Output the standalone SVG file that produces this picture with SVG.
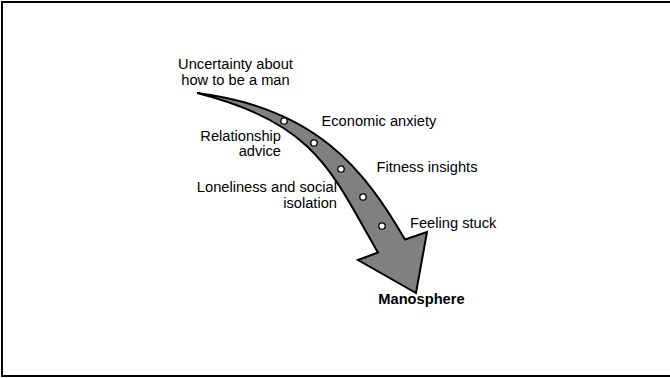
<svg xmlns="http://www.w3.org/2000/svg" width="670" height="378" viewBox="0 0 670 378">
<style>
.lbl{font-family:"Liberation Sans",Arial,sans-serif;font-size:14.67px;fill:#000}
.bold{font-weight:bold}
.dot{fill:#fff;stroke:#000;stroke-width:1.3}
</style>
<rect x="0" y="0" width="670" height="378" fill="#fff"/>
<rect x="2" y="2" width="680" height="374" fill="none" stroke="#000" stroke-width="2"/>
<g id="connectors">
<path id="arrow" d="M197,93 C317,108 364.8,170.4 405,239.5 L427,232 L416,293 L358,260 L378,252.5 C332.7,174.7 317,123 197,93 Z" fill="#808080" stroke="#000" stroke-width="2" stroke-linejoin="miter"/>
<circle class="dot" cx="284" cy="121" r="3.2"/>
<circle class="dot" cx="314" cy="143" r="3.2"/>
<circle class="dot" cx="341" cy="169" r="3.2"/>
<circle class="dot" cx="363" cy="197" r="3.2"/>
<circle class="dot" cx="382" cy="226" r="3.2"/>
</g>
<g id="uncertainty"><text class="lbl" x="235.5" y="69.3" text-anchor="middle">Uncertainty about</text><text class="lbl" x="235.5" y="84.7" text-anchor="middle">how to be a man</text></g>
<g id="relationship"><text class="lbl" x="281" y="140.7" text-anchor="end">Relationship</text><text class="lbl" x="281" y="155.5" text-anchor="end">advice</text></g>
<g id="economic"><text class="lbl" x="321.5" y="125.7">Economic anxiety</text></g>
<g id="fitness"><text class="lbl" x="376.5" y="171.7">Fitness insights</text></g>
<g id="loneliness"><text class="lbl" x="337" y="192.3" text-anchor="end">Loneliness and social</text><text class="lbl" x="337" y="208.3" text-anchor="end">isolation</text></g>
<g id="stuck"><text class="lbl" x="410" y="228.3">Feeling stuck</text></g>
<g id="manosphere"><text class="lbl bold" x="378.3" y="304">Manosphere</text></g>
</svg>
